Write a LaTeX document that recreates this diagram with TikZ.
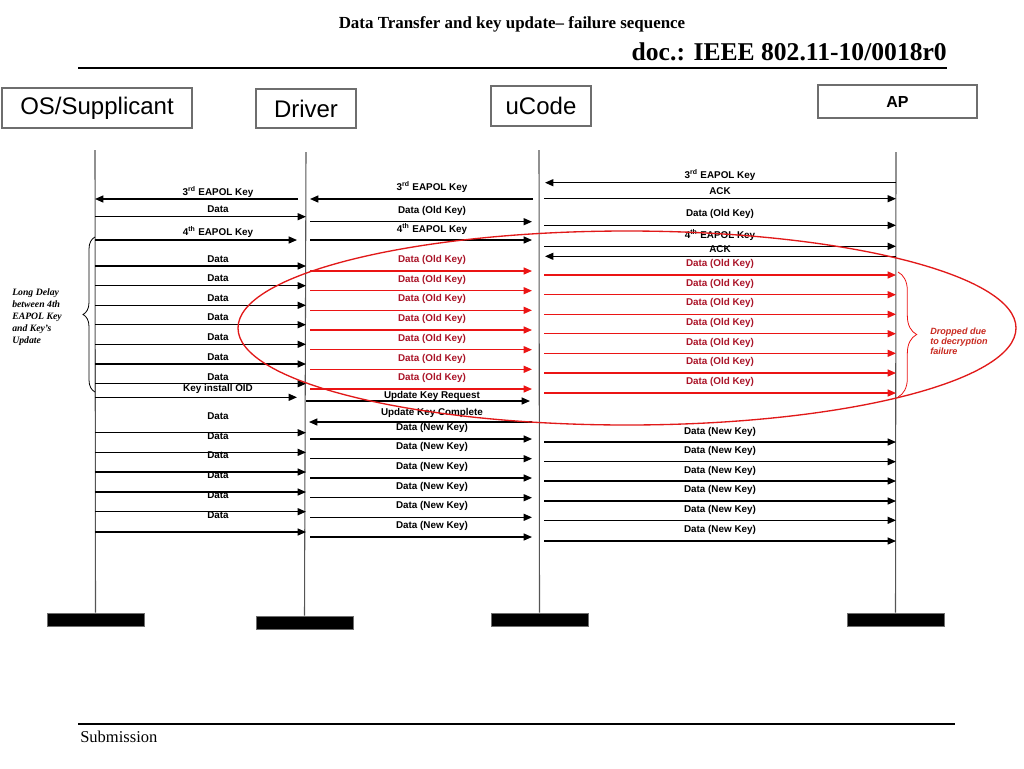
\documentclass[tikz,border=0pt]{standalone}
\usepackage{fontspec}
\setmainfont{Liberation Serif}
\newfontfamily\arialf{Liberation Sans}
\usetikzlibrary{arrows.meta,decorations.pathreplacing}
\definecolor{lifegray}{RGB}{85,85,85}
\definecolor{boxgray}{RGB}{110,110,110}
\definecolor{arrred}{RGB}{235,20,20}
\definecolor{lblred}{RGB}{170,20,40}
\definecolor{dropred}{RGB}{200,40,30}
\definecolor{ellred}{RGB}{225,25,25}
\begin{document}
\begin{tikzpicture}[x=0.75pt,y=-0.75pt,
  msg/.style={line width=0.95pt,-{Triangle[length=6.2pt,width=5.2pt]}},
  redmsg/.style={msg,draw=arrred},
  lbl/.style={font=\arialf\bfseries\fontsize{7.4}{8}\selectfont,inner sep=0pt},
  redlbl/.style={lbl,text=lblred},
  actor/.style={draw=boxgray,line width=0.8pt,inner sep=0pt,font=\arialf\fontsize{18}{20}\selectfont},
  life/.style={draw=lifegray,line width=0.8pt},
  bar/.style={fill=black,draw=boxgray,line width=0.4pt,inner sep=0pt,minimum width=72.75pt,minimum height=9.75pt}
]
\useasboundingbox (0,0) rectangle (1024,768);

% header
\node[font=\bfseries\fontsize{12.7}{14}\selectfont,inner sep=0pt] (title) at (512,24) {Data Transfer and key update– failure sequence};
\node[font=\bfseries\fontsize{19.2}{22}\selectfont,inner sep=0pt,anchor=east] (doc) at (947,52) {doc.: IEEE 802.11-10/0018r0};
\coordinate (hl) at (78,68); \coordinate (hr) at (947,68);
\draw[line width=1.1pt] (hl) -- (hr);

% footer
\coordinate (fl) at (78,724); \coordinate (fr) at (955,724);
\draw[line width=0.9pt] (fl) -- (fr);
\node[font=\fontsize{12.4}{14}\selectfont,inner sep=0pt,anchor=west] (sub) at (80,737) {Submission};

% actors
\node[actor,minimum width=142.5pt,minimum height=30pt] (osbox) at (97,108) {OS/Supplicant};
\node[actor,minimum width=75pt,minimum height=29.25pt] (drvbox) at (306,108.5) {Driver};
\node[actor,minimum width=75pt,minimum height=30pt] (ucbox) at (541,106) {uCode};
\node[actor,minimum width=119.25pt,minimum height=24.75pt,font=\arialf\bfseries\fontsize{12}{14}\selectfont] (apbox) at (897.5,101.5) {AP};

% lifelines
\coordinate (os) at (95,0); \coordinate (drv) at (306,0);
\coordinate (uc) at (539,0); \coordinate (ap) at (896,0);
\node[bar] (osbar) at (95.5,619.5) {};
\node[bar] (drvbar) at (304.5,622.5) {};
\node[bar] (ucbar) at (539.5,619.5) {};
\node[bar] (apbar) at (895.5,619.5) {};
\draw[life] (os|-0,150) -- (osbar.north);
\draw[life] (drv|-0,152) -- (drvbar.north);
\draw[life] (uc|-0,150) -- (ucbar.north);
\draw[life] (ap|-0,152) -- (apbar.north);

% ---- column A: OS <-> Driver
\node[lbl] (a1) at (218,191.7) {3\textsuperscript{rd} EAPOL Key};
\draw[msg,shorten <=6pt] (drv|-0,199) -- (os|-0,199);
\foreach \y in {216.7,266,285.7,305.3,324.7,344.3,364,383.7,432.7,452.3,472,492,511.7,532}
  \draw[msg] (os|-0,\y) -- (drv|-0,\y);
\foreach \y [count=\i] in {209,258.7,278,297.7,317,337,356.7,376.7,415.7,435.7,455.3,475,494.7,514.7}
  \node[lbl] (ad\i) at (218,\y) {Data};
\node[lbl] (a2) at (218,232) {4\textsuperscript{th} EAPOL Key};
\draw[msg,shorten >=6.75pt] (os|-0,240) -- (drv|-0,240);
\node[lbl] (a3) at (218,389.3) {Key install OID};
\draw[msg,shorten >=6.75pt] (os|-0,397.3) -- (drv|-0,397.3);

% ---- column B: Driver <-> uCode
\node[lbl] (b1) at (432,187.3) {3\textsuperscript{rd} EAPOL Key};
\draw[msg,shorten <=4.5pt,shorten >=3pt] (uc|-0,199) -- (drv|-0,199);
\node[lbl] (b2) at (432,211) {Data (Old Key)};
\draw[msg,shorten <=3pt,shorten >=5.25pt] (drv|-0,221.7) -- (uc|-0,221.7);
\node[lbl] (b3) at (432,229) {4\textsuperscript{th} EAPOL Key};
\draw[msg,shorten <=3pt,shorten >=5.25pt] (drv|-0,240) -- (uc|-0,240);
\foreach \y in {271,290.7,310.3,330,349.7,369.3,389}
  \draw[redmsg,shorten <=3pt,shorten >=5.25pt] (drv|-0,\y) -- (uc|-0,\y);
\foreach \y [count=\i] in {260,279.7,299.3,319,339,358.7,378.3}
  \node[redlbl] (bo\i) at (432,\y) {Data (Old Key)};
\node[lbl] (b4) at (432,396) {Update Key Request};
\draw[msg,shorten >=6.75pt] (drv|-0,401) -- (uc|-0,401);
\node[lbl] (b5) at (432,413.3) {Update Key Complete};
\draw[msg,shorten <=5.25pt,shorten >=2.25pt] (uc|-0,422) -- (drv|-0,422);
\foreach \y in {439,458.7,478,497.7,517.3,537}
  \draw[msg,shorten <=3pt,shorten >=5.25pt] (drv|-0,\y) -- (uc|-0,\y);
\foreach \y [count=\i] in {427.7,447.3,467,486.7,506.3,526}
  \node[lbl] (bn\i) at (432,\y) {Data (New Key)};

% ---- column C: uCode <-> AP
\node[lbl] (c1) at (720,175) {3\textsuperscript{rd} EAPOL Key};
\draw[msg,shorten >=4.5pt] (ap|-0,182.7) -- (uc|-0,182.7);
\node[lbl] (c2) at (720,191.3) {ACK};
\draw[msg,shorten <=3.75pt] (uc|-0,198.7) -- (ap|-0,198.7);
\node[lbl] (c3) at (720,214.3) {Data (Old Key)};
\draw[msg,shorten <=3.75pt] (uc|-0,225.3) -- (ap|-0,225.3);
\node[lbl] (c4) at (720,235) {4\textsuperscript{th} EAPOL Key};
\draw[msg,shorten <=3.75pt] (uc|-0,246.3) -- (ap|-0,246.3);
\node[lbl] (c5) at (720,248.7) {ACK};
\draw[msg,shorten >=4.5pt] (ap|-0,256.3) -- (uc|-0,256.3);
\foreach \y in {275,294.7,314.3,333.7,353.3,373,393}
  \draw[redmsg,shorten <=3.75pt] (uc|-0,\y) -- (ap|-0,\y);
\foreach \y [count=\i] in {264,283.7,303.3,323,342.7,362.3,382}
  \node[redlbl] (co\i) at (720,\y) {Data (Old Key)};
\foreach \y in {442,461.7,481,501,520.3,541}
  \draw[msg,shorten <=3.75pt] (uc|-0,\y) -- (ap|-0,\y);
\foreach \y [count=\i] in {431.7,451,470.7,490,510,529.7}
  \node[lbl] (cn\i) at (720,\y) {Data (New Key)};

% braces and notes
\draw[decorate,decoration={brace,amplitude=9pt},line width=0.6pt] (95,392) -- (95,237);
\node[anchor=west,align=left,inner sep=0pt,font=\bfseries\itshape\fontsize{7.3}{9}\selectfont] (delay) at (12,317) {Long Delay\\between 4th\\EAPOL Key\\and Key’s\\Update};
\draw[decorate,decoration={brace,amplitude=14pt},line width=0.6pt,draw=arrred] (898,272) -- (898,397);
\node[anchor=west,align=left,inner sep=0pt,text=dropred,font=\arialf\bfseries\itshape\fontsize{6.8}{7.5}\selectfont] (drop) at (930,341.7) {Dropped due\\to decryption\\failure};

% ellipse
\coordinate (ellc) at (627,328);
\draw[draw=ellred,line width=1pt] (ellc) ellipse [x radius=291.75pt,y radius=72.75pt];
\end{tikzpicture}
\end{document}
